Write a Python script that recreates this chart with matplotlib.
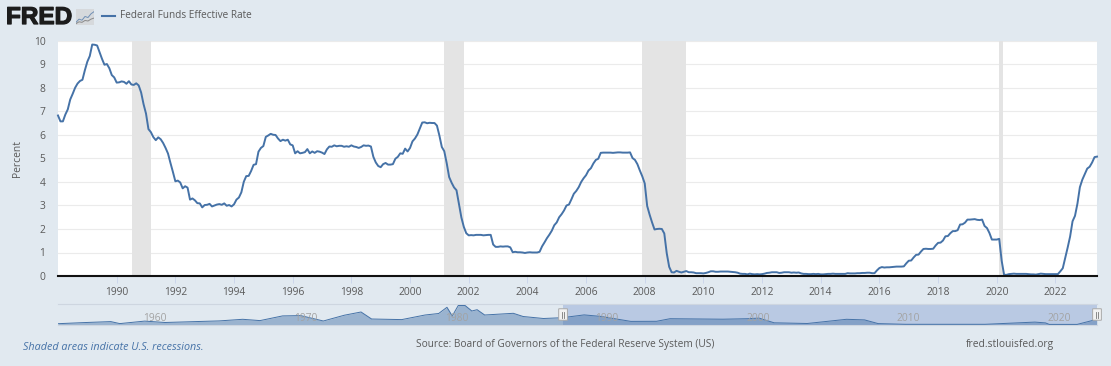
import numpy as np
import matplotlib
matplotlib.use("Agg")
import matplotlib.pyplot as plt
import matplotlib.patheffects as pe
from matplotlib.patches import FancyBboxPatch

plt.rcParams["font.family"] = ["Open Sans", "DejaVu Sans"]

# monthly rate, Jan 1988 - Jun 2023
rate = [
    6.83, 6.58, 6.58, 6.87, 7.09, 7.51, 7.75, 8.01, 8.19, 8.30, 8.35, 8.76,
    9.12, 9.36, 9.85, 9.84, 9.81, 9.53, 9.24, 8.99, 9.02, 8.84, 8.55, 8.45,
    8.23, 8.24, 8.28, 8.26, 8.18, 8.29, 8.15, 8.13, 8.20, 8.11, 7.81, 7.31,
    6.91, 6.25, 6.12, 5.91, 5.78, 5.90, 5.82, 5.66, 5.45, 5.21, 4.81, 4.43,
    4.03, 4.06, 3.98, 3.73, 3.82, 3.76, 3.25, 3.30, 3.22, 3.10, 3.09, 2.92,
    3.02, 3.03, 3.07, 2.96, 3.00, 3.04, 3.06, 3.03, 3.09, 2.99, 3.02, 2.96,
    3.05, 3.25, 3.34, 3.56, 4.01, 4.25, 4.26, 4.47, 4.73, 4.76, 5.29, 5.45,
    5.53, 5.92, 5.98, 6.05, 6.01, 6.00, 5.85, 5.74, 5.80, 5.76, 5.80, 5.60,
    5.56, 5.22, 5.31, 5.22, 5.24, 5.27, 5.40, 5.22, 5.30, 5.24, 5.31, 5.29,
    5.25, 5.19, 5.39, 5.51, 5.50, 5.56, 5.52, 5.54, 5.54, 5.50, 5.52, 5.50,
    5.56, 5.51, 5.49, 5.45, 5.49, 5.56, 5.54, 5.55, 5.51, 5.07, 4.83, 4.68,
    4.63, 4.76, 4.81, 4.74, 4.74, 4.76, 4.99, 5.07, 5.22, 5.20, 5.42, 5.30,
    5.45, 5.73, 5.85, 6.02, 6.27, 6.53, 6.54, 6.50, 6.52, 6.51, 6.51, 6.40,
    5.98, 5.49, 5.31, 4.80, 4.21, 3.97, 3.77, 3.65, 3.07, 2.49, 2.09, 1.82,
    1.73, 1.74, 1.73, 1.75, 1.75, 1.75, 1.73, 1.74, 1.75, 1.75, 1.34, 1.24,
    1.24, 1.26, 1.25, 1.26, 1.26, 1.22, 1.01, 1.03, 1.01, 1.01, 1.00, 0.98,
    1.00, 1.01, 1.00, 1.00, 1.00, 1.03, 1.26, 1.43, 1.61, 1.76, 1.93, 2.16,
    2.28, 2.50, 2.63, 2.79, 3.00, 3.04, 3.26, 3.50, 3.62, 3.78, 4.00, 4.16,
    4.29, 4.49, 4.59, 4.79, 4.94, 4.99, 5.24, 5.25, 5.25, 5.25, 5.25, 5.24,
    5.25, 5.26, 5.26, 5.25, 5.25, 5.25, 5.26, 5.02, 4.94, 4.76, 4.49, 4.24,
    3.94, 2.98, 2.61, 2.28, 1.98, 2.00, 2.01, 2.00, 1.81, 0.97, 0.39, 0.16,
    0.15, 0.22, 0.18, 0.15, 0.18, 0.21, 0.16, 0.16, 0.15, 0.12, 0.12, 0.12,
    0.11, 0.13, 0.16, 0.20, 0.20, 0.18, 0.18, 0.19, 0.19, 0.19, 0.19, 0.18,
    0.17, 0.16, 0.14, 0.10, 0.09, 0.09, 0.07, 0.10, 0.08, 0.07, 0.08, 0.07,
    0.08, 0.10, 0.13, 0.14, 0.16, 0.16, 0.16, 0.13, 0.14, 0.16, 0.16, 0.16,
    0.14, 0.15, 0.14, 0.15, 0.11, 0.09, 0.09, 0.08, 0.08, 0.09, 0.08, 0.09,
    0.07, 0.07, 0.08, 0.09, 0.09, 0.10, 0.09, 0.09, 0.09, 0.09, 0.09, 0.12,
    0.11, 0.11, 0.11, 0.12, 0.12, 0.13, 0.13, 0.14, 0.14, 0.12, 0.12, 0.24,
    0.34, 0.38, 0.36, 0.37, 0.37, 0.38, 0.39, 0.40, 0.40, 0.40, 0.41, 0.54,
    0.65, 0.66, 0.79, 0.90, 0.91, 1.04, 1.15, 1.16, 1.15, 1.15, 1.16, 1.30,
    1.41, 1.42, 1.51, 1.69, 1.70, 1.82, 1.91, 1.91, 1.95, 2.19, 2.20, 2.27,
    2.40, 2.40, 2.41, 2.42, 2.39, 2.38, 2.40, 2.13, 2.04, 1.83, 1.55, 1.55,
    1.55, 1.58, 0.65, 0.05, 0.05, 0.08, 0.09, 0.10, 0.09, 0.09, 0.09, 0.09,
    0.09, 0.08, 0.07, 0.07, 0.06, 0.08, 0.10, 0.09, 0.08, 0.08, 0.08, 0.08,
    0.08, 0.08, 0.20, 0.33, 0.77, 1.21, 1.68, 2.33, 2.56, 3.08, 3.78, 4.10,
    4.33, 4.57, 4.65, 4.83, 5.06, 5.08,
]
rec_start = [1990.53, 2001.17, 2007.92, 2020.09]
rec_end = [1991.17, 2001.83, 2009.42, 2020.2]
year_ticks = list(range(1990, 2024, 2))

# navigator overview
nav_years = [1954.5, 1956.2, 1958.0, 1958.6, 1960.25, 1961.6, 1963.6, 1965.2, 1966.75,
             1967.9, 1969.4, 1970.6, 1972.1, 1973.5, 1974.6, 1975.3, 1977.3, 1978.85,
             1979.75, 1980.3, 1980.65, 1981.05, 1981.5, 1981.95, 1982.3, 1982.8, 1984.7,
             1985.35, 1986.7, 1987.95, 1989.4, 1990.5, 1992.5, 1994.2, 1995.1, 1998.6,
             2000.25, 2001.0, 2002.0, 2004.2, 2006.8, 2008.0, 2008.9, 2010.7, 2016.0,
             2019.3, 2020.0, 2020.25, 2022.1, 2023.4]
nav_vals = [0.8, 1.9, 2.9, 0.9, 3.4, 2.0, 2.9, 3.6, 5.2,
            3.9, 8.6, 8.9, 3.5, 9.3, 12.5, 5.5, 4.9, 9.5,
            11.0, 17.2, 8.5, 19.0, 19.0, 13.5, 14.8, 9.5, 11.2,
            8.0, 6.0, 6.8, 9.6, 8.1, 3.1, 3.2, 5.8, 5.3,
            5.8, 6.4, 1.7, 1.0, 5.2, 4.6, 0.9, 0.2, 0.2,
            2.4, 1.6, 0.1, 0.1, 5.1]
nav_label_years = [1960, 1970, 1980, 1990, 2000, 2010, 2020]

W, H = 1111, 366
BG = "#e1e9f0"
LINE = "#4572a7"
TXT = "#5a5a5a"


def px_axes(x0, y0, x1, y1, **kw):
    return fig.add_axes([x0 / W, 1 - y1 / H, (x1 - x0) / W, (y1 - y0) / H], **kw)


fig = plt.figure(figsize=(W / 100, H / 100), dpi=100, facecolor=BG)

# main chart
ax = px_axes(58, 41, 1097, 276)
dates = 1988 + np.arange(len(rate)) / 12
for s, e in zip(rec_start, rec_end):
    ax.axvspan(s, e, color="#e4e4e4", lw=0, zorder=1)
ax.grid(axis="y", color="#ebebeb", lw=0.8, zorder=0)
ax.plot(dates, rate, color=LINE, lw=1.4, zorder=3, solid_joinstyle="round", clip_on=False)
ax.set_xlim(1988, dates[-1])
ax.set_ylim(0, 10)
ax.set_yticks(range(0, 11))
ax.set_xticks(year_ticks)
ax.tick_params(axis="y", length=0, labelsize=7.4, labelcolor=TXT, pad=9)
ax.tick_params(axis="x", length=5, width=0.7, color="#ccd6eb", labelsize=7.4, labelcolor=TXT, pad=3)
for side in ["top", "left", "right"]:
    ax.spines[side].set_visible(False)
ax.spines["bottom"].set_color("#111111")
ax.spines["bottom"].set_linewidth(1.5)
ax.spines["bottom"].set_zorder(5)
ax.set_axisbelow(True)
ax.set_ylabel("Percent", fontsize=7.4, color=TXT, labelpad=8)

# navigator
nav = px_axes(58, 303.5, 1097, 324.5)
nav.set_facecolor("none")
nav.set_xlim(1954.5, dates[-1])
nav.set_ylim(0, 21)
nav.axvspan(dates[0], dates[-1], color="#b9c9e3", lw=0, zorder=1)
nav.fill_between(nav_years, nav_vals, 0, color=LINE, alpha=0.45, lw=0, zorder=2)
nav.plot(nav_years, nav_vals, color=LINE, lw=0.7, zorder=3)
for y in nav_label_years:
    nav.annotate(str(y), (y, 0), xytext=(10, 0.6), textcoords="offset points", ha="center",
                 va="bottom", fontsize=7.4, color="#a3a3a3", zorder=4)
nav.set_xticks([])
nav.set_yticks([])
for side in ["left", "right"]:
    nav.spines[side].set_visible(False)
nav.spines["top"].set_color("#ced6e0")
nav.spines["bottom"].set_color("#ced6e0")
for x in [dates[0], dates[-1]]:
    nav.add_patch(FancyBboxPatch((x - 0.24, 4.5), 0.48, 11, boxstyle="round,pad=0.05",
                                 mutation_aspect=5, fc="#f2f2f2", ec="#a9a9a9", lw=0.7,
                                 zorder=6, clip_on=False))
    nav.plot([x - 0.07, x - 0.07], [7, 13], color="#777777", lw=0.6, zorder=7, clip_on=False)
    nav.plot([x + 0.07, x + 0.07], [7, 13], color="#777777", lw=0.6, zorder=7, clip_on=False)

# header
fig.text(6 / W, 1 - 24 / H, "FRED", family="Liberation Sans", weight="bold", fontsize=17.5,
         color="#1c1c1c", va="baseline",
         path_effects=[pe.withStroke(linewidth=0.9, foreground="#1c1c1c")])
icon = px_axes(76, 9, 94, 25)
icon.set_facecolor("#d6d9dc")
icon.set_xticks([])
icon.set_yticks([])
for s in icon.spines.values():
    s.set_visible(False)
icon.plot([0, 1, 2, 3, 4, 5, 6], [1, 2.2, 1.8, 3.2, 2.8, 4.2, 5], color="#6f8fb5", lw=0.7)
icon.plot([0, 1, 2, 3, 4, 5, 6], [0.5, 1.2, 1, 1.7, 1.5, 2.2, 2.6], color="#8a8a8a", lw=0.7)
icon.set_xlim(0, 6)
icon.set_ylim(0, 6)
fig.add_artist(plt.Line2D([102 / W, 115 / W], [1 - 16 / H, 1 - 16 / H], color=LINE, lw=1.5))
fig.text(120 / W, 1 - 16 / H, "Federal Funds Effective Rate", fontsize=7.2, color=TXT, va="center")

# footer
fig.text(23 / W, 1 - 348 / H, "Shaded areas indicate U.S. recessions.", fontsize=7.75,
         style="italic", color=LINE, va="center")
fig.text(416 / W, 1 - 345 / H, "Source: Board of Governors of the Federal Reserve System (US)",
         fontsize=7.3, color=TXT, va="center")
fig.text(966 / W, 1 - 345 / H, "fred.stlouisfed.org", fontsize=7.35, color=TXT, va="center")

fig.savefig("out.png", dpi=100, facecolor=BG)
